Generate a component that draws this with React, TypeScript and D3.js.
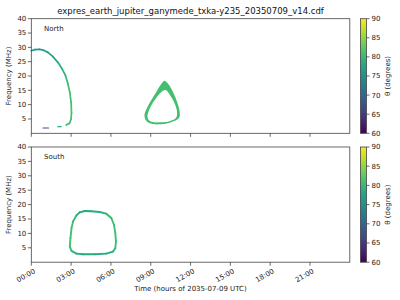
import React from "react";
import * as d3 from "d3";

// [time (h), frequency (MHz), theta (deg)]
const northArc: [number, number, number][] = [
  [0, 28.83, 76], [0.25, 29.18, 76], [0.63, 29.3, 76.2], [0.88, 29.07, 76.5],
  [1.25, 28.25, 77], [1.63, 26.75, 77.5], [2.0, 24.77, 78.3], [2.33, 22.44, 79],
  [2.58, 20.11, 79.8], [2.75, 17.43, 80.3], [2.9, 14.29, 80.8], [3.0, 10.81, 81],
  [3.03, 7.33, 81], [3.0, 4.99, 81], [2.88, 3.48, 80.5], [2.63, 2.9, 80],
];
const northDashA: [number, number, number][] = [[0.88, 1.85, 67.5], [1.3, 1.85, 67.5]];
const northDashB: [number, number, number][] = [[2.0, 2.32, 78.5], [2.25, 2.32, 78.5]];

// North loop as outer / inner contours [time, freq]
const northLoopOuter: [number, number][] = [
  [10.03, 18.36], [10.28, 17.43], [10.53, 15.69], [10.78, 13.36], [10.98, 11.04],
  [11.1, 9.3], [11.18, 7.56], [11.18, 5.81], [11.03, 4.88], [10.78, 4.29],
  [10.28, 3.48], [9.65, 3.13], [9.15, 3.24], [8.78, 3.83], [8.58, 4.99],
  [8.53, 6.39], [8.65, 8.13], [8.9, 10.46], [9.28, 13.36], [9.65, 16.27], [9.85, 17.55],
];
const northLoopInner: [number, number][] = [
  [10.1, 15.11], [10.53, 12.78], [10.85, 9.87], [10.98, 7.56], [10.95, 5.81],
  [10.78, 4.88], [10.28, 4.07], [9.65, 3.83], [9.15, 3.94], [8.85, 4.64],
  [8.75, 5.81], [8.83, 7.56], [9.03, 9.65], [9.4, 12.2], [9.78, 14.29],
];
const northLoopTheta = 81;

const southLoop: [number, number, number][] = [
  [4.03, 17.79, 78], [4.53, 17.67, 78.3], [5.15, 17.44, 78.8], [5.65, 16.85, 79.5],
  [6.03, 15.34, 80.3], [6.23, 13.0, 80.8], [6.33, 10.09, 81], [6.38, 7.17, 81],
  [6.33, 4.85, 80.5], [6.15, 3.69, 79.5], [5.65, 2.99, 78.5], [4.78, 2.75, 78.3],
  [3.9, 2.75, 78.3], [3.4, 2.99, 78.8], [3.03, 3.92, 80], [2.9, 5.43, 81],
  [2.95, 8.35, 81], [3.03, 11.84, 81], [3.15, 14.17, 80.5], [3.4, 16.26, 79.5],
  [3.65, 17.32, 78.5], [4.03, 17.79, 78],
];

const yTicks = [5, 10, 15, 20, 25, 30, 35, 40];
const xTicks = [0, 3, 6, 9, 12, 15, 18, 21];
const xTickLabels = ["00:00", "03:00", "06:00", "09:00", "12:00", "15:00", "18:00", "21:00"];
const cbTicks = [60, 65, 70, 75, 80, 85, 90];
const thetaDomain = [60, 90];
const title = "expres_earth_jupiter_ganymede_txka-y235_20350709_v14.cdf";

const FONT = "DejaVu Sans, sans-serif";
const AX_L = 31.3;
const AX_R = 349.8;
const CB_L = 360.5;
const CB_W = 6;

const color = (th: number) =>
  d3.interpolateViridis((th - thetaDomain[0]) / (thetaDomain[1] - thetaDomain[0]));

const x = d3.scaleLinear().domain([0, 24]).range([AX_L, AX_R]);

function Segments({ pts, y, w }: { pts: [number, number, number][]; y: d3.ScaleLinear<number, number>; w: number }) {
  const segs = [];
  for (let i = 0; i < pts.length - 1; i++) {
    const a = pts[i], b = pts[i + 1];
    segs.push(
      <line key={i} x1={x(a[0])} y1={y(a[1])} x2={x(b[0])} y2={y(b[1])}
        stroke={color((a[2] + b[2]) / 2)} strokeWidth={w} strokeLinecap="round" />
    );
  }
  return <g>{segs}</g>;
}

function Panel({ top, bottom, label, showXLabels, gradId, children }:
  { top: number; bottom: number; label: string; showXLabels: boolean; gradId: string; children: (y: d3.ScaleLinear<number, number>) => React.ReactNode }) {
  const y = d3.scaleLinear().domain([0, 40]).range([bottom, top]);
  const cb = d3.scaleLinear().domain(thetaDomain).range([bottom, top]);
  return (
    <g>
      <defs>
        <linearGradient id={gradId} x1="0" y1="1" x2="0" y2="0">
          {d3.range(0, 1.001, 0.1).map((s) => (
            <stop key={s} offset={s} stopColor={d3.interpolateViridis(s)} />
          ))}
        </linearGradient>
      </defs>
      {children(y)}
      <rect x={AX_L} y={top} width={AX_R - AX_L} height={bottom - top} fill="none" stroke="#444" strokeWidth={0.8} />
      {yTicks.map((t) => (
        <g key={t}>
          <line x1={AX_L - 3.5} x2={AX_L} y1={y(t)} y2={y(t)} stroke="#444" strokeWidth={0.8} />
          <text x={AX_L - 5} y={y(t)} dy="0.35em" textAnchor="end" fontSize={7} fontFamily={FONT} fill="#222">{t}</text>
        </g>
      ))}
      {xTicks.map((t, i) => (
        <g key={t}>
          <line x1={x(t)} x2={x(t)} y1={bottom} y2={bottom + 3.5} stroke="#444" strokeWidth={0.8} />
          {showXLabels && (
            <text transform={`translate(${x(t) + 2},${bottom + 6}) rotate(-30)`} dy="0.7em" textAnchor="end"
              fontSize={7} fontFamily={FONT} fill="#222">{xTickLabels[i]}</text>
          )}
        </g>
      ))}
      <text transform={`translate(11,${(top + bottom) / 2}) rotate(-90)`} textAnchor="middle" fontSize={7} fontFamily={FONT} fill="#222">Frequency (MHz)</text>
      <text x={44} y={top + 12} fontSize={7} fontFamily={FONT} fill="#222">{label}</text>
      <rect x={CB_L} y={top} width={CB_W} height={bottom - top} fill={`url(#${gradId})`} stroke="#444" strokeWidth={0.8} />
      {cbTicks.map((t) => (
        <g key={t}>
          <line x1={CB_L + CB_W} x2={CB_L + CB_W + 3} y1={cb(t)} y2={cb(t)} stroke="#444" strokeWidth={0.8} />
          <text x={CB_L + CB_W + 5} y={cb(t)} dy="0.35em" fontSize={7} fontFamily={FONT} fill="#222">{t}</text>
        </g>
      ))}
      <text transform={`translate(390,${(top + bottom) / 2}) rotate(-90)`} textAnchor="middle" fontSize={7} fontFamily={FONT} fill="#222">θ (degrees)</text>
    </g>
  );
}

export default function App() {
  const loopPath = (yS: d3.ScaleLinear<number, number>) => {
    const l = d3.line<[number, number]>().x((d) => x(d[0])).y((d) => yS(d[1])).curve(d3.curveCatmullRomClosed);
    return (l(northLoopOuter) || "") + (l(northLoopInner) || "");
  };
  return (
    <svg width={400} height={300} style={{ position: "absolute", left: 0, top: 0, background: "#fff" }}>
      <text x={190.5} y={14} textAnchor="middle" fontSize={8.5} fontFamily={FONT} fill="#111">{title}</text>
      <Panel top={18.7} bottom={133.3} label="North" showXLabels={false} gradId="gN">
        {(y) => (
          <g>
            <Segments pts={northArc} y={y} w={1.7} />
            <Segments pts={northDashA} y={y} w={1.2} />
            <Segments pts={northDashB} y={y} w={1.2} />
            <path d={loopPath(y)} fill={color(northLoopTheta)} fillRule="evenodd" />
          </g>
        )}
      </Panel>
      <Panel top={147} bottom={262.2} label="South" showXLabels={true} gradId="gS">
        {(y) => <Segments pts={southLoop} y={y} w={1.9} />}
      </Panel>
      <text x={190.5} y={291} textAnchor="middle" fontSize={7} fontFamily={FONT} fill="#222">Time (hours of 2035-07-09 UTC)</text>
    </svg>
  );
}
